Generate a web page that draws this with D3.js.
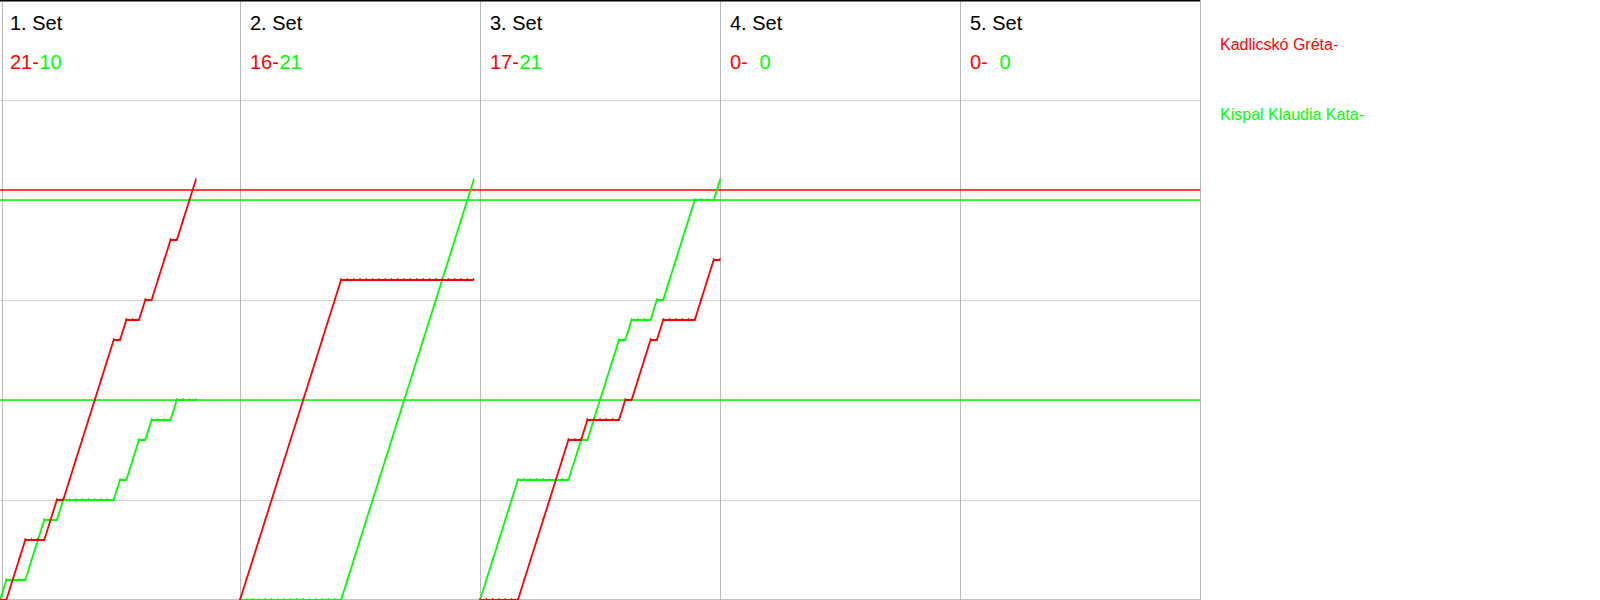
<!DOCTYPE html>
<html>
<head>
<meta charset="utf-8">
<script src="https://cdn.jsdelivr.net/npm/d3@7"></script>
<style>
  html, body { margin: 0; padding: 0; background: #fff; }
  svg { display: block; }
  text { font-family: Arial, "Liberation Sans", sans-serif; }
</style>
</head>
<body>
<svg id="chart" width="1600" height="600"></svg>
<script>
// ---- data ----
const setLabels = ["1. Set", "2. Set", "3. Set", "4. Set", "5. Set"];
const redFinal = [21, 16, 17, 0, 0];
const greenFinal = [10, 21, 21, 0, 0];
const playerNames = ["Kadlicskó Gréta-", "Kispal Klaudia Kata-"];

// cumulative score after each rally (index = rally number)
const redSet1 = [0,0,1,2,3,3,3,3,4,5,5,6,7,8,9,10,11,12,13,13,14,14,14,15,15,16,17,18,18,19,20,21];
const greenSet1 = [0,1,1,1,1,2,3,4,4,4,5,5,5,5,5,5,5,5,5,6,6,7,8,8,9,9,9,9,10,10,10,10];
const redSet2 = [0,1,2,3,4,5,6,7,8,9,10,11,12,13,14,15,16,16,16,16,16,16,16,16,16,16,16,16,16,16,16,16,16,16,16,16,16,16];
const greenSet2 = [0,0,0,0,0,0,0,0,0,0,0,0,0,0,0,0,0,1,2,3,4,5,6,7,8,9,10,11,12,13,14,15,16,17,18,19,20,21];
const redSet3 = [0,0,0,0,0,0,0,1,2,3,4,5,6,7,8,8,8,9,9,9,9,9,9,10,10,11,12,13,13,14,14,14,14,14,14,15,16,17,17];
const greenSet3 = [0,1,2,3,4,5,6,6,6,6,6,6,6,6,6,7,8,8,9,10,11,12,13,13,14,14,14,14,15,15,16,17,18,19,20,20,20,20,21];
const redSet4 = [];
const greenSet4 = [];
const redSet5 = [];
const greenSet5 = [];

const redProgress = [redSet1, redSet2, redSet3, redSet4, redSet5];
const greenProgress = [greenSet1, greenSet2, greenSet3, greenSet4, greenSet5];

// reference lines (score levels)
const redRefLevels = [20.5];
const greenRefLevels = [20, 10];

const scoreTicks = [5, 10, 15, 20, 25, 30];

// ---- drawing ----
const RED = "#ff0000", GREEN = "#00ff00";
const svg = d3.select("#chart");

const panel = d3.scaleLinear().domain([0, 5]).range([0, 1200]);
const y = d3.scaleLinear().domain([0, 30]).range([600, 0]);
const maxRallies = 38;

// horizontal gridlines via axis
const gridAxis = d3.axisRight(y).tickValues(scoreTicks).tickSize(1200).tickFormat("");
const gAxis = svg.append("g").call(gridAxis);
gAxis.select(".domain").remove();
gAxis.selectAll(".tick line").attr("stroke", "#d0d0d0").attr("stroke-width", 1);
gAxis.selectAll(".tick").attr("transform", d => `translate(0,${Math.min(y(d) + 0.5, 599.5)})`);
svg.append("line").attr("x1", 0).attr("x2", 1200).attr("y1", 599.5).attr("y2", 599.5)
  .attr("stroke", "#c4c4c4");

// vertical panel lines
const vx = d3.range(0, 6).map(i => i === 0 ? 2.5 : panel(i) + 0.5);
svg.selectAll("line.v").data(vx).join("line").attr("class", "v")
  .attr("x1", d => d).attr("x2", d => d).attr("y1", 0).attr("y2", 600)
  .attr("stroke", "#b8b8b8").attr("stroke-width", 1);

// top black border
svg.append("rect").attr("x", 0).attr("y", 0).attr("width", panel(5)).attr("height", 1.5).attr("fill", "#000");

// reference lines
svg.selectAll("line.rr").data(redRefLevels).join("line").attr("class", "rr")
  .attr("x1", 0).attr("x2", panel(5)).attr("y1", d => y(d)).attr("y2", d => y(d))
  .attr("stroke", RED).attr("stroke-width", 1.5);
svg.selectAll("line.gr").data(greenRefLevels).join("line").attr("class", "gr")
  .attr("x1", 0).attr("x2", panel(5)).attr("y1", d => y(d)).attr("y2", d => y(d))
  .attr("stroke", GREEN).attr("stroke-width", 1.5);

// per set panels
setLabels.forEach((label, i) => {
  const x0 = panel(i);
  const x = d3.scaleLinear().domain([0, maxRallies]).range([x0, x0 + 240]);
  const line = d3.line().x((d, k) => x(k)).y(d => y(d));

  const g = svg.append("g");
  [[greenProgress[i], GREEN], [redProgress[i], RED]].forEach(([arr, col]) => {
    if (!arr.length) return;
    g.append("path").attr("d", line(arr)).attr("fill", "none")
      .attr("stroke", col).attr("stroke-width", 1.8);
    g.selectAll(null).data(arr).join("rect")
      .attr("x", (d, k) => x(k) - 0.6).attr("y", d => y(d) - 2)
      .attr("width", 1.2).attr("height", 2.5).attr("fill", col);
  });

  svg.append("text").attr("x", x0 + 10).attr("y", 30)
    .attr("font-size", 20).attr("fill", "#000").text(label);
  svg.append("text").attr("x", x0 + 10).attr("y", 69)
    .attr("font-size", 20).attr("fill", RED).text(redFinal[i] + "-");
  svg.append("text").attr("x", x0 + 39.5).attr("y", 69)
    .attr("font-size", 20).attr("fill", GREEN).text(greenFinal[i]);
});

// legend
svg.append("text").attr("x", 1220).attr("y", 50).attr("font-size", 16).attr("fill", RED).text(playerNames[0]);
svg.append("text").attr("x", 1220).attr("y", 120).attr("font-size", 16).attr("fill", GREEN).text(playerNames[1]);
</script>
</body>
</html>
